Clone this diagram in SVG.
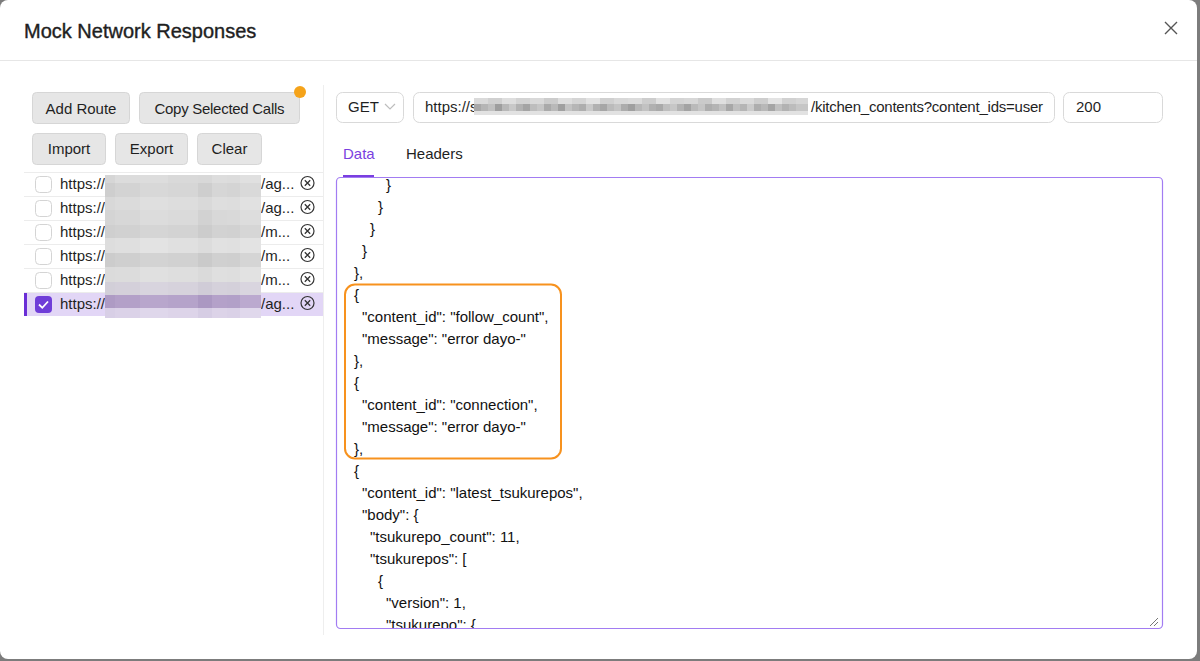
<svg xmlns="http://www.w3.org/2000/svg" width="1200" height="661" viewBox="0 0 1200 661">
<style>
text{font-family:"Liberation Sans",Arial,sans-serif;fill:#1f1f1f}
.btn rect{fill:#e6e6e6;stroke:#d6d6d6;stroke-width:1}
.btn text{font-size:15px;text-anchor:middle}
.row text{font-size:15px}
.sep{stroke:#ececec;stroke-width:1}
.cb{fill:#fff;stroke:#d4d4d4;stroke-width:1}
.del circle{fill:none;stroke:#333;stroke-width:1.2}
.del path{stroke:#333;stroke-width:1.3;fill:none}
.inp{fill:#fff;stroke:#d9d9d9;stroke-width:1}
.code text{font-size:15px;fill:#111}
</style>
<defs>
<clipPath id="ta"><rect x="337" y="178" width="824" height="450"/></clipPath>
</defs>
<rect x="0" y="0" width="1200" height="661" fill="#7c7c7c"/>
<rect id="dialog" x="0" y="0" width="1197" height="659" rx="8" fill="#fff"/>

<g id="header">
<text x="24" y="38" font-size="20" style="stroke:#1f1f1f;stroke-width:0.4">Mock Network Responses</text>
<path d="M1165 22 L1177 34 M1177 22 L1165 34" stroke="#555" stroke-width="1.4"/>
<line x1="0" y1="60.5" x2="1197" y2="60.5" stroke="#e6e6e6"/>
</g>

<line id="divider" x1="323.5" y1="85" x2="323.5" y2="635" stroke="#eeeeee"/>

<g id="buttons">
<g class="btn" id="btn-add"><rect x="32.5" y="92.5" width="97" height="31" rx="4"/><text x="81" y="114">Add Route</text></g>
<g class="btn" id="btn-copy"><rect x="139.5" y="92.5" width="160" height="31" rx="4"/><text x="219.5" y="114" textLength="130">Copy Selected Calls</text></g>
<circle id="badge" cx="300" cy="92" r="6" fill="#f5a31a"/>
<g class="btn" id="btn-import"><rect x="32.5" y="133.5" width="73" height="31" rx="4"/><text x="69" y="154">Import</text></g>
<g class="btn" id="btn-export"><rect x="115.5" y="133.5" width="72" height="31" rx="4"/><text x="151.5" y="154">Export</text></g>
<g class="btn" id="btn-clear"><rect x="197.5" y="133.5" width="64" height="31" rx="4"/><text x="229.5" y="154">Clear</text></g>
</g>

<g id="route-list">
<rect x="24" y="292" width="299" height="24" fill="#e2d6f6"/>
<rect x="24" y="292" width="3" height="24" fill="#6a2ed6"/>
<line class="sep" x1="24" y1="172.5" x2="323" y2="172.5"/>
<line class="sep" x1="24" y1="196.5" x2="323" y2="196.5"/>
<line class="sep" x1="24" y1="220.5" x2="323" y2="220.5"/>
<line class="sep" x1="24" y1="244.5" x2="323" y2="244.5"/>
<line class="sep" x1="24" y1="268.5" x2="323" y2="268.5"/>
<line class="sep" x1="24" y1="292.5" x2="323" y2="292.5"/>
<g class="row" id="row1"><rect class="cb" x="35.5" y="176.5" width="16" height="16" rx="4"/><text x="60" y="189">https://</text><text x="261" y="189">/ag...</text><g class="del"><circle cx="307.5" cy="183" r="6.5"/><path d="M304.8 180.3 L310.2 185.7 M310.2 180.3 L304.8 185.7"/></g></g>
<g class="row" id="row2"><rect class="cb" x="35.5" y="200.5" width="16" height="16" rx="4"/><text x="60" y="213">https://</text><text x="261" y="213">/ag...</text><g class="del"><circle cx="307.5" cy="207" r="6.5"/><path d="M304.8 204.3 L310.2 209.7 M310.2 204.3 L304.8 209.7"/></g></g>
<g class="row" id="row3"><rect class="cb" x="35.5" y="224.5" width="16" height="16" rx="4"/><text x="60" y="237">https://</text><text x="261" y="237">/m...</text><g class="del"><circle cx="307.5" cy="231" r="6.5"/><path d="M304.8 228.3 L310.2 233.7 M310.2 228.3 L304.8 233.7"/></g></g>
<g class="row" id="row4"><rect class="cb" x="35.5" y="248.5" width="16" height="16" rx="4"/><text x="60" y="261">https://</text><text x="261" y="261">/m...</text><g class="del"><circle cx="307.5" cy="255" r="6.5"/><path d="M304.8 252.3 L310.2 257.7 M310.2 252.3 L304.8 257.7"/></g></g>
<g class="row" id="row5"><rect class="cb" x="35.5" y="272.5" width="16" height="16" rx="4"/><text x="60" y="285">https://</text><text x="261" y="285">/m...</text><g class="del"><circle cx="307.5" cy="279" r="6.5"/><path d="M304.8 276.3 L310.2 281.7 M310.2 276.3 L304.8 281.7"/></g></g>
<g class="row" id="row6"><rect x="35" y="296" width="17" height="17" rx="4" fill="#6f3dd8"/><path d="M39 304.5 L42.3 307.8 L48 301.5" stroke="#fff" stroke-width="1.8" fill="none"/><text x="60" y="309">https://</text><text x="261" y="309">/ag...</text><g class="del"><circle cx="307.5" cy="303" r="6.5"/><path d="M304.8 300.3 L310.2 305.7 M310.2 300.3 L304.8 305.7"/></g></g>
<g id="list-mosaic">
<rect x="105" y="175" width="156" height="143" fill="#dadada"/>
<g><rect x="105" y="175" width="10" height="8" fill="#d6d6d6"/><rect x="115" y="175" width="25" height="8" fill="#dcdcdc"/><rect x="140" y="175" width="28" height="8" fill="#dddddd"/><rect x="168" y="175" width="30" height="8" fill="#d9d9d9"/><rect x="198" y="175" width="14" height="8" fill="#d8d8d8"/><rect x="212" y="175" width="15" height="8" fill="#dddddd"/><rect x="227" y="175" width="13" height="8" fill="#dcdcdc"/><rect x="240" y="175" width="21" height="8" fill="#e0e0e0"/></g>
<g><rect x="105" y="183" width="10" height="14" fill="#cecece"/><rect x="115" y="183" width="25" height="14" fill="#d3d3d3"/><rect x="140" y="183" width="28" height="14" fill="#d8d8d8"/><rect x="168" y="183" width="30" height="14" fill="#d6d6d6"/><rect x="198" y="183" width="14" height="14" fill="#cecece"/><rect x="212" y="183" width="15" height="14" fill="#d6d6d6"/><rect x="227" y="183" width="13" height="14" fill="#d4d4d4"/><rect x="240" y="183" width="21" height="14" fill="#d9d9d9"/></g>
<g><rect x="105" y="197" width="10" height="13" fill="#d8d8d8"/><rect x="115" y="197" width="25" height="13" fill="#dbdbdb"/><rect x="140" y="197" width="28" height="13" fill="#dfdfdf"/><rect x="168" y="197" width="30" height="13" fill="#dddddd"/><rect x="198" y="197" width="14" height="13" fill="#d9d9d9"/><rect x="212" y="197" width="15" height="13" fill="#dedede"/><rect x="227" y="197" width="13" height="13" fill="#dddddd"/><rect x="240" y="197" width="21" height="13" fill="#e1e1e1"/></g>
<g><rect x="105" y="210" width="10" height="15" fill="#d4d4d4"/><rect x="115" y="210" width="25" height="15" fill="#d7d7d7"/><rect x="140" y="210" width="28" height="15" fill="#dcdcdc"/><rect x="168" y="210" width="30" height="15" fill="#dadada"/><rect x="198" y="210" width="14" height="15" fill="#d2d2d2"/><rect x="212" y="210" width="15" height="15" fill="#d8d8d8"/><rect x="227" y="210" width="13" height="15" fill="#d9d9d9"/><rect x="240" y="210" width="21" height="15" fill="#dddddd"/></g>
<g><rect x="105" y="225" width="10" height="13" fill="#cfcfcf"/><rect x="115" y="225" width="25" height="13" fill="#d1d1d1"/><rect x="140" y="225" width="28" height="13" fill="#d5d5d5"/><rect x="168" y="225" width="30" height="13" fill="#d3d3d3"/><rect x="198" y="225" width="14" height="13" fill="#cccccc"/><rect x="212" y="225" width="15" height="13" fill="#d2d2d2"/><rect x="227" y="225" width="13" height="13" fill="#d1d1d1"/><rect x="240" y="225" width="21" height="13" fill="#d6d6d6"/></g>
<g><rect x="105" y="238" width="10" height="15" fill="#dddddd"/><rect x="115" y="238" width="25" height="15" fill="#dfdfdf"/><rect x="140" y="238" width="28" height="15" fill="#e3e3e3"/><rect x="168" y="238" width="30" height="15" fill="#e0e0e0"/><rect x="198" y="238" width="14" height="15" fill="#dcdcdc"/><rect x="212" y="238" width="15" height="15" fill="#e1e1e1"/><rect x="227" y="238" width="13" height="15" fill="#e0e0e0"/><rect x="240" y="238" width="21" height="15" fill="#e3e3e3"/></g>
<g><rect x="105" y="253" width="10" height="14" fill="#cccccc"/><rect x="115" y="253" width="25" height="14" fill="#cfcfcf"/><rect x="140" y="253" width="28" height="14" fill="#d3d3d3"/><rect x="168" y="253" width="30" height="14" fill="#d1d1d1"/><rect x="198" y="253" width="14" height="14" fill="#cacaca"/><rect x="212" y="253" width="15" height="14" fill="#d0d0d0"/><rect x="227" y="253" width="13" height="14" fill="#cfcfcf"/><rect x="240" y="253" width="21" height="14" fill="#d5d5d5"/></g>
<g><rect x="105" y="267" width="10" height="15" fill="#dbdbdb"/><rect x="115" y="267" width="25" height="15" fill="#dcdcdc"/><rect x="140" y="267" width="28" height="15" fill="#e0e0e0"/><rect x="168" y="267" width="30" height="15" fill="#dedede"/><rect x="198" y="267" width="14" height="15" fill="#dadada"/><rect x="212" y="267" width="15" height="15" fill="#dfdfdf"/><rect x="227" y="267" width="13" height="15" fill="#dedede"/><rect x="240" y="267" width="21" height="15" fill="#e2e2e2"/></g>
<g><rect x="105" y="282" width="10" height="13" fill="#d2cfd8"/><rect x="115" y="282" width="25" height="13" fill="#d4d0da"/><rect x="140" y="282" width="28" height="13" fill="#d8d4de"/><rect x="168" y="282" width="30" height="13" fill="#d6d2dc"/><rect x="198" y="282" width="14" height="13" fill="#d0ccd7"/><rect x="212" y="282" width="15" height="13" fill="#d5d1db"/><rect x="227" y="282" width="13" height="13" fill="#d4d0da"/><rect x="240" y="282" width="21" height="13" fill="#d9d5df"/></g>
<g><rect x="105" y="295" width="10" height="13" fill="#ae9bc4"/><rect x="115" y="295" width="25" height="13" fill="#b3a0c8"/><rect x="140" y="295" width="28" height="13" fill="#b8a6cc"/><rect x="168" y="295" width="30" height="13" fill="#b5a3ca"/><rect x="198" y="295" width="14" height="13" fill="#ab98c2"/><rect x="212" y="295" width="15" height="13" fill="#b4a1c9"/><rect x="227" y="295" width="13" height="13" fill="#b2a0c8"/><rect x="240" y="295" width="21" height="13" fill="#bba9cf"/></g>
<g><rect x="105" y="308" width="10" height="10" fill="#d8cfe6"/><rect x="115" y="308" width="25" height="10" fill="#dbd2e8"/><rect x="140" y="308" width="28" height="10" fill="#dfd7eb"/><rect x="168" y="308" width="30" height="10" fill="#ddd4e9"/><rect x="198" y="308" width="14" height="10" fill="#d6cde4"/><rect x="212" y="308" width="15" height="10" fill="#dcd3e8"/><rect x="227" y="308" width="13" height="10" fill="#dad1e7"/><rect x="240" y="308" width="21" height="10" fill="#e0d8ec"/></g>
</g>
</g>

<g id="request-bar">
<g id="method"><rect class="inp" x="336.5" y="92.5" width="67" height="30" rx="6"/><text x="348" y="112" font-size="15">GET</text><path d="M385 104 L390 109 L395 104" stroke="#bdbdbd" stroke-width="1.2" fill="none"/></g>
<g id="url"><rect class="inp" x="413.5" y="92.5" width="641" height="30" rx="6"/><text x="425" y="112" font-size="15">https://s</text>
<g id="url-mosaic">
<rect x="474" y="98" width="334" height="17" fill="#d2d2d2"/>
<g transform="translate(474,98)">
<rect x="0" y="0" width="14" height="6" fill="#dadada"/><rect x="14" y="0" width="14" height="6" fill="#d0d0d0"/><rect x="28" y="0" width="14" height="6" fill="#dedede"/><rect x="42" y="0" width="14" height="6" fill="#d3d3d3"/><rect x="56" y="0" width="14" height="6" fill="#d9d9d9"/><rect x="70" y="0" width="14" height="6" fill="#cccccc"/><rect x="84" y="0" width="14" height="6" fill="#dedede"/><rect x="98" y="0" width="14" height="6" fill="#d5d5d5"/><rect x="112" y="0" width="14" height="6" fill="#e2e2e2"/><rect x="126" y="0" width="14" height="6" fill="#d0d0d0"/><rect x="140" y="0" width="14" height="6" fill="#d8d8d8"/><rect x="154" y="0" width="14" height="6" fill="#dbdbdb"/><rect x="168" y="0" width="14" height="6" fill="#cdcdcd"/><rect x="182" y="0" width="14" height="6" fill="#e1e1e1"/><rect x="196" y="0" width="14" height="6" fill="#d4d4d4"/><rect x="210" y="0" width="14" height="6" fill="#d7d7d7"/><rect x="224" y="0" width="14" height="6" fill="#cacaca"/><rect x="238" y="0" width="14" height="6" fill="#dfdfdf"/><rect x="252" y="0" width="14" height="6" fill="#d2d2d2"/><rect x="266" y="0" width="14" height="6" fill="#dadada"/><rect x="280" y="0" width="14" height="6" fill="#cecece"/><rect x="294" y="0" width="14" height="6" fill="#e3e3e3"/><rect x="308" y="0" width="14" height="6" fill="#d1d1d1"/><rect x="322" y="0" width="12" height="6" fill="#d6d6d6"/>
<rect x="0" y="6" width="7" height="7" fill="#a8a8a8"/><rect x="7" y="6" width="7" height="7" fill="#b5b5b5"/><rect x="14" y="6" width="7" height="7" fill="#c0c0c0"/><rect x="21" y="6" width="7" height="7" fill="#9e9e9e"/><rect x="28" y="6" width="7" height="7" fill="#b8b8b8"/><rect x="35" y="6" width="7" height="7" fill="#c8c8c8"/><rect x="42" y="6" width="7" height="7" fill="#b2b2b2"/><rect x="49" y="6" width="7" height="7" fill="#a4a4a4"/><rect x="56" y="6" width="7" height="7" fill="#bdbdbd"/><rect x="63" y="6" width="7" height="7" fill="#c6c6c6"/><rect x="70" y="6" width="7" height="7" fill="#aaaaaa"/><rect x="77" y="6" width="7" height="7" fill="#b9b9b9"/><rect x="84" y="6" width="7" height="7" fill="#a0a0a0"/><rect x="91" y="6" width="7" height="7" fill="#c3c3c3"/><rect x="98" y="6" width="7" height="7" fill="#b6b6b6"/><rect x="105" y="6" width="7" height="7" fill="#aeaeae"/><rect x="112" y="6" width="7" height="7" fill="#c9c9c9"/><rect x="119" y="6" width="7" height="7" fill="#b1b1b1"/><rect x="126" y="6" width="7" height="7" fill="#a6a6a6"/><rect x="133" y="6" width="7" height="7" fill="#bbbbbb"/><rect x="140" y="6" width="7" height="7" fill="#c4c4c4"/><rect x="147" y="6" width="7" height="7" fill="#acacac"/><rect x="154" y="6" width="7" height="7" fill="#9f9f9f"/><rect x="161" y="6" width="7" height="7" fill="#b7b7b7"/><rect x="168" y="6" width="7" height="7" fill="#c2c2c2"/><rect x="175" y="6" width="7" height="7" fill="#b0b0b0"/><rect x="182" y="6" width="7" height="7" fill="#a9a9a9"/><rect x="189" y="6" width="7" height="7" fill="#bebebe"/><rect x="196" y="6" width="7" height="7" fill="#c7c7c7"/><rect x="203" y="6" width="7" height="7" fill="#b3b3b3"/><rect x="210" y="6" width="7" height="7" fill="#a3a3a3"/><rect x="217" y="6" width="7" height="7" fill="#bababa"/><rect x="224" y="6" width="7" height="7" fill="#c5c5c5"/><rect x="231" y="6" width="7" height="7" fill="#adadad"/><rect x="238" y="6" width="7" height="7" fill="#b4b4b4"/><rect x="245" y="6" width="7" height="7" fill="#c1c1c1"/><rect x="252" y="6" width="7" height="7" fill="#a7a7a7"/><rect x="259" y="6" width="7" height="7" fill="#bfbfbf"/><rect x="266" y="6" width="7" height="7" fill="#b5b5b5"/><rect x="273" y="6" width="7" height="7" fill="#cbcbcb"/><rect x="280" y="6" width="7" height="7" fill="#aeaeae"/><rect x="287" y="6" width="7" height="7" fill="#b8b8b8"/><rect x="294" y="6" width="7" height="7" fill="#a5a5a5"/><rect x="301" y="6" width="7" height="7" fill="#c0c0c0"/><rect x="308" y="6" width="7" height="7" fill="#b2b2b2"/><rect x="315" y="6" width="7" height="7" fill="#bcbcbc"/><rect x="322" y="6" width="12" height="7" fill="#c6c6c6"/>
<rect x="0" y="13" width="334" height="4" fill="#e2e2e2"/>
</g>
</g>
<text x="811" y="112" font-size="15" textLength="232">/kitchen_contents?content_ids=user</text></g>
<g id="status"><rect class="inp" x="1063.5" y="92.5" width="99" height="30" rx="6"/><text x="1076" y="112" font-size="15">200</text></g>
</g>

<g id="tabs">
<text x="343" y="159" font-size="15" style="fill:#7a3fe0">Data</text>
<text x="406" y="159" font-size="15">Headers</text>
<rect x="343" y="175" width="31" height="2" fill="#7a3fe0"/>
</g>

<g id="editor">
<rect x="336.5" y="177.5" width="826" height="451" rx="4" fill="#fff" stroke="#a27cf2" stroke-width="1.2"/>
<path d="M1150 626 L1158 618 M1154 626 L1158 622" stroke="#777" stroke-width="1"/>
<g class="code" clip-path="url(#ta)">
<text x="386" y="190">}</text>
<text x="378" y="212">}</text>
<text x="370" y="234">}</text>
<text x="362" y="256">}</text>
<text x="354" y="278">},</text>
<text x="354" y="300">{</text>
<text x="362" y="322">"content_id": "follow_count",</text>
<text x="362" y="344">"message": "error dayo-"</text>
<text x="354" y="366">},</text>
<text x="354" y="388">{</text>
<text x="362" y="410">"content_id": "connection",</text>
<text x="362" y="432">"message": "error dayo-"</text>
<text x="354" y="454">},</text>
<text x="354" y="476">{</text>
<text x="362" y="498">"content_id": "latest_tsukurepos",</text>
<text x="362" y="520">"body": {</text>
<text x="370" y="542">"tsukurepo_count": 11,</text>
<text x="370" y="564">"tsukurepos": [</text>
<text x="378" y="586">{</text>
<text x="386" y="608">"version": 1,</text>
<text x="386" y="630">"tsukurepo": {</text>
</g>
<rect id="highlight" x="345" y="284.5" width="216" height="174" rx="10" fill="none" stroke="#f7921e" stroke-width="2"/>
</g>
</svg>
